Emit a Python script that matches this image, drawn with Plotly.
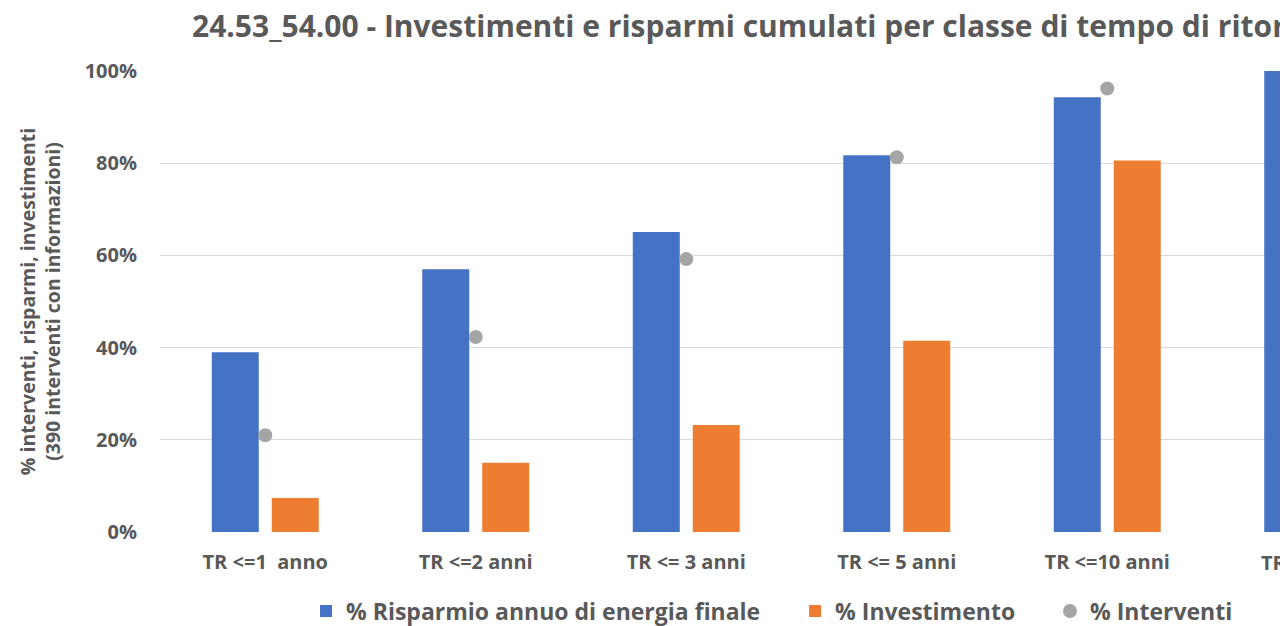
import plotly.graph_objects as go

categories = ["TR <=1  anno", "TR <=2 anni", "TR <= 3 anni", "TR <= 5 anni", "TR <=10 anni", "TR >10 anni"]
risparmio = [0.39, 0.57, 0.651, 0.817, 0.943, 1.0]
investimento = [0.074, 0.15, 0.232, 0.415, 0.806, 1.0]
interventi = [0.21, 0.423, 0.592, 0.813, 0.962, 1.0]
y_ticks = [0, 0.2, 0.4, 0.6, 0.8, 1.0]
y_labels = ["0%", "20%", "40%", "60%", "80%", "100%"]
series_names = ["% Risparmio annuo di energia finale", "% Investimento", "% Interventi"]

TXT = "#595959"
FONT = "Open Sans"
NB = "\u00a0"

fig = go.Figure()
fig.add_trace(go.Bar(x=categories, y=risparmio, name="<b>%s</b>" % (series_names[0] + NB * 5),
                     marker=dict(color="#4472C4", line=dict(width=0))))
fig.add_trace(go.Bar(x=categories, y=investimento, name="<b>%s</b>" % (series_names[1] + NB * 5),
                     marker=dict(color="#ED7D31", line=dict(width=0))))
fig.add_trace(go.Scatter(x=categories, y=interventi, name="<b>%s</b>" % series_names[2], mode="markers",
                         marker=dict(color="#A5A5A5", size=14, line=dict(width=0))))

# page has an 8px body margin; figure coordinates = reference pixels - 8
OFF = 8
W, H = 1288 - OFF, 626 - OFF
L, T = 160 - OFF, 71 - OFF
PB = 532 - OFF
B = H - PB
cat_w = 210.5
x_lo = -0.5
x_hi = x_lo + (W - L) / cat_w

# paper x of the partially visible last category (for its tick label)
last_x = (len(categories) - 1 - x_lo) / (x_hi - x_lo)

fig.update_layout(
    width=W, height=H,
    margin=dict(l=L, r=0, t=T, b=B, pad=0, autoexpand=False),
    paper_bgcolor="white", plot_bgcolor="white",
    font=dict(family=FONT, color=TXT),
    barmode="group", bargap=0.43, bargroupgap=0.2167,
    title=dict(text="<b>24.53_54.00 - Investimenti e risparmi cumulati per classe di tempo di ritorno</b>",
               x=(192 - OFF) / W, xanchor="left", xref="container",
               y=1 - (26 - OFF) / H, yanchor="middle", yref="container",
               font=dict(size=30, color=TXT, family=FONT)),
    xaxis=dict(type="category", range=[x_lo, x_hi], showgrid=False, zeroline=False,
               showline=False, ticks="", tickfont=dict(size=20, color=TXT, family=FONT),
               tickvals=categories, ticktext=["<b>%s</b>" % c for c in categories],
               ticklabelstandoff=16),
    yaxis=dict(range=[0, 1], tickvals=y_ticks, ticktext=["<b>%s</b>" % t for t in y_labels],
               showgrid=True, gridcolor="#D9D9D9", gridwidth=1.3, zeroline=False, showline=False,
               ticks="", ticklabelstandoff=22, tickfont=dict(size=20, color=TXT, family=FONT),
               title=dict(text="<b>% interventi, risparmi, investimenti<br>(390 interventi con informazioni)</b>",
                          font=dict(size=19.5, color=TXT, family=FONT), standoff=18)),
    legend=dict(orientation="h", x=(306 - 160) / (W - L), xanchor="left",
                y=(532 - 611) / (PB - T), yanchor="middle",
                font=dict(size=23, color=TXT, family=FONT), itemclick=False),
    showlegend=True,
    annotations=[dict(text="<b>%s</b>" % categories[-1], xref="paper", yref="paper",
                      x=last_x, y=0, xanchor="center", yanchor="middle", yshift=-30,
                      showarrow=False, font=dict(size=20, color=TXT, family=FONT))],
)

fig.write_html("out.html")
